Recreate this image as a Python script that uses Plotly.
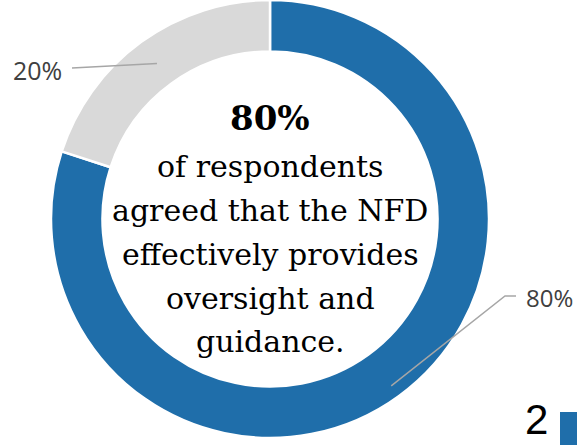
import math
import plotly.graph_objects as go

labels = ["Agreed", "Did not agree"]
values = [80, 20]
colors = ["#1F6EAA", "#D9D9D9"]
label_text = ["80%", "20%"]
center_lines = ["<b>80%</b>", "of respondents", "agreed that the NFD",
                "effectively provides", "oversight and", "guidance."]
page_number = "2"

W, H = 577, 445
cx, cy, R = 270, 219, 219
hole = 0.765

fig = go.Figure(go.Pie(
    labels=labels, values=values, sort=False, direction="clockwise",
    rotation=0, hole=hole, textinfo="none", hoverinfo="label+percent",
    marker=dict(colors=colors, line=dict(color="white", width=2.5)),
    domain=dict(x=[(cx - R) / W, (cx + R) / W], y=[(H - (cy + R)) / H, (H - (cy - R)) / H]),
    showlegend=False,
))

def px(x, y):
    return x / W, 1 - y / H

# slice mid-angles from data
total = sum(values)
mids = []
acc = 0
for v in values:
    mids.append((acc + v / 2) / total * 2 * math.pi)
    acc += v

rmid = R * (1 + hole) / 2 + 3
def on_ring(i, r=rmid):
    a = mids[i]
    return cx + r * math.sin(a), cy - r * math.cos(a)

shapes = []
annotations = []
# 80% leader
x0, y0 = on_ring(0, rmid + 10)
ex, ey = 505, 296
X0, Y0 = px(x0, y0); X1, Y1 = px(ex, ey); X2, Y2 = px(516, ey)
shapes.append(dict(type="path", xref="paper", yref="paper",
                   path=f"M {X0} {Y0} L {X1} {Y1} L {X2} {Y2}",
                   line=dict(color="#A6A6A6", width=1.5)))
tx, ty = px(524, 297)
annotations.append(dict(x=tx, y=ty, xref="paper", yref="paper", text=label_text[0],
                        showarrow=False, xanchor="left", yanchor="middle",
                        font=dict(family="Open Sans", size=24, color="#404040")))
# 20% leader
x0, y0 = on_ring(1, rmid - 4)
X0, Y0 = px(x0, y0); X1, Y1 = px(72, 68)
shapes.append(dict(type="path", xref="paper", yref="paper",
                   path=f"M {X0} {Y0} L {X1} {Y1}",
                   line=dict(color="#A6A6A6", width=1.5)))
tx, ty = px(64, 70)
annotations.append(dict(x=tx, y=ty, xref="paper", yref="paper", text=label_text[1],
                        showarrow=False, xanchor="right", yanchor="middle",
                        font=dict(family="Open Sans", size=25, color="#404040")))

# centre text, one line each
baselines = [133, 179, 223, 267, 311, 354]
for i, (line, b) in enumerate(zip(center_lines, baselines)):
    size = 34 if i == 0 else 30
    x, y = px(cx, b + 7)
    annotations.append(dict(x=x, y=y, xref="paper", yref="paper", text=line,
                            showarrow=False, xanchor="center", yanchor="bottom",
                            font=dict(family="DejaVu Serif", size=size, color="black")))

# page number and tab
x, y = px(550, 445)
annotations.append(dict(x=x, y=y, xref="paper", yref="paper", text=page_number,
                        showarrow=False, xanchor="right", yanchor="bottom",
                        font=dict(family="Liberation Sans", size=42, color="black")))
a, b = px(560, 412); c, d = px(580, 450)
shapes.append(dict(type="rect", xref="paper", yref="paper", x0=a, y0=d, x1=c, y1=b,
                   fillcolor="#1F6EAA", line=dict(width=0)))

fig.update_layout(width=W, height=H, margin=dict(l=0, r=0, t=0, b=0),
                  paper_bgcolor="white", plot_bgcolor="white",
                  shapes=shapes, annotations=annotations)
fig.write_html("out.html")
